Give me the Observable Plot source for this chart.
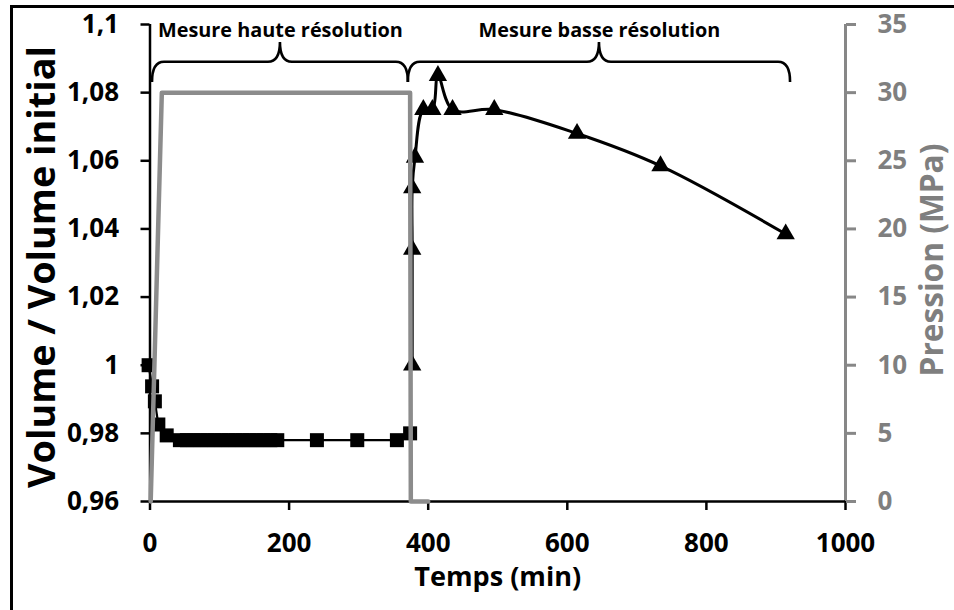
<!DOCTYPE html>
<html><head><meta charset="utf-8">
<script src="https://cdn.jsdelivr.net/npm/d3@7"></script>
<script src="https://cdn.jsdelivr.net/npm/@observablehq/plot@0.6"></script>
<style>
html,body{margin:0;padding:0;background:#fff;}
#chart{position:relative;width:954px;height:610px;overflow:hidden;}
#frame{position:absolute;left:10px;top:5px;width:1000px;height:1000px;border-left:3px solid #000;border-top:3px solid #000;pointer-events:none;}
</style></head><body>
<div id="chart"><div id="frame"></div></div>
<script>
// High-resolution volume measurements (squares)
const sqTime = [-2, 3, 7, 12, 24, 43, 53, 63, 73, 83, 93, 103, 113, 123, 133, 143, 153, 163, 173, 183, 240, 298, 355, 374];
const sqVolume = [1.000, 0.9938, 0.9894, 0.9826, 0.9794, 0.978, 0.978, 0.978, 0.978, 0.978, 0.978, 0.978, 0.978, 0.978, 0.978, 0.978, 0.978, 0.978, 0.978, 0.978, 0.978, 0.978, 0.978, 0.980];
// Low-resolution volume measurements (triangles)
const triTime = [377, 377, 377, 381, 393, 406, 414, 435, 495, 614, 734, 914];
const triVolume = [1.000, 1.034, 1.052, 1.061, 1.075, 1.075, 1.085, 1.075, 1.075, 1.068, 1.0585, 1.0385];
// Pressure (MPa)
const presTime = [1, 17, 374, 375, 400];
const presValue = [0, 30, 30, 0, 0];

// Axes
const xTicks = [0, 200, 400, 600, 800, 1000];
const xTickLabels = ["0", "200", "400", "600", "800", "1000"];
const volTicks = [0.96, 0.98, 1.00, 1.02, 1.04, 1.06, 1.08, 1.10];
const volTickLabels = ["0,96", "0,98", "1", "1,02", "1,04", "1,06", "1,08", "1,1"];
const presTicks = [0, 5, 10, 15, 20, 25, 30, 35];
const presTickLabels = ["0", "5", "10", "15", "20", "25", "30", "35"];
const volDomain = [0.96, 1.1];
const presDomain = [0, 35];
const timeDomain = [0, 1000];

// Annotation braces (time spans) and labels
const braceStart = [3.6, 371.5];
const braceEnd = [371.5, 921];
const braceLabels = ["Mesure haute résolution", "Mesure basse résolution"];
const braceEndLevel = 1.083, braceLineLevel = 1.0889, braceTipLevel = 1.0947;

// target text widths (px)
const titles = {
  "Volume / Volume initial": 442,
  "Temps (min)": 167,
  "Pression (MPa)": 233,
  "Mesure haute résolution": 245,
  "Mesure basse résolution": 242
};

const p2v = p => volDomain[0] + p * (volDomain[1] - volDomain[0]) / (presDomain[1] - presDomain[0]);

const squares = sqTime.map((t, i) => ({t, v: sqVolume[i]}));
const triangles = triTime.map((t, i) => ({t, v: triVolume[i]}));
const pressure = presTime.map((t, i) => ({t, v: p2v(presValue[i])}));
const braces = braceStart.map((s, i) => ({s, e: braceEnd[i], m: (s + braceEnd[i]) / 2, label: braceLabels[i]}));

function braceMark(index, scales) {
  const {x, y} = scales;
  const g = d3.create("svg:g").attr("fill", "none").attr("stroke", "black").attr("stroke-width", 2.6);
  for (const b of braces) {
    const x1 = x(b.s), x2 = x(b.e), xm = (x1 + x2) / 2;
    const yEnd = y(braceEndLevel), yLine = y(braceLineLevel), yTip = y(braceTipLevel);
    const r = 12;
    const p = d3.path();
    p.moveTo(x1, yEnd);
    p.quadraticCurveTo(x1, yLine, x1 + r, yLine);
    p.lineTo(xm - r, yLine);
    p.quadraticCurveTo(xm, yLine, xm, yTip);
    p.quadraticCurveTo(xm, yLine, xm + r, yLine);
    p.lineTo(x2 - r, yLine);
    p.quadraticCurveTo(x2, yLine, x2, yEnd);
    g.append("path").attr("d", p.toString());
  }
  return g.node();
}

const gray = "#878787";
const font = "'Open Sans', sans-serif";

const chart = Plot.plot({
  width: 954,
  height: 610,
  marginLeft: 149.5,
  marginRight: 109,
  marginTop: 24,
  marginBottom: 109,
  style: {fontFamily: font, fontWeight: "bold", background: "transparent", overflow: "visible"},
  x: {domain: timeDomain},
  y: {domain: volDomain},
  marks: [
    Plot.axisX(xTicks, {anchor: "bottom", tickSize: 9, tickPadding: 23, strokeWidth: 2.5,
      tickFormat: d => xTickLabels[xTicks.indexOf(d)], fontSize: 26, fontWeight: "bold", fill: "black", label: null}),
    Plot.axisY(volTicks, {anchor: "left", tickSize: 9, tickPadding: 22, strokeWidth: 2.5,
      tickFormat: d => volTickLabels[volTicks.indexOf(d)], fontSize: 26, fontWeight: "bold", fill: "black", label: null}),
    Plot.axisY(presTicks.map(p2v), {anchor: "right", tickSize: 10, tickPadding: 22, strokeWidth: 3, stroke: gray,
      tickFormat: d => presTickLabels[presTicks.map(p2v).indexOf(d)], fontSize: 26, fontWeight: "bold", fill: "#7f7f7f", label: null}),
    Plot.ruleX([timeDomain[1]], {stroke: gray, strokeWidth: 3}),
    Plot.ruleX([timeDomain[0]], {stroke: "black", strokeWidth: 2.5}),
    Plot.ruleY([volDomain[0]], {stroke: "black", strokeWidth: 2.5}),
    // volume high resolution
    Plot.line(squares, {x: "t", y: "v", stroke: "black", strokeWidth: 2.2}),
    Plot.dot(squares, {x: "t", y: "v", symbol: "square", r: 7.9, fill: "black"}),
    // volume low resolution
    Plot.line(triangles, {x: "t", y: "v", stroke: "black", strokeWidth: 3, curve: "catmull-rom"}),
    Plot.dot(triangles, {x: "t", y: "v", symbol: "triangle", r: 6.8, fill: "black"}),
    // pressure
    Plot.line(pressure, {x: "t", y: "v", stroke: "#8c8c8c", strokeWidth: 4.5}),
    // braces
    braceMark,
    Plot.text(braces, {x: "m", text: "label", frameAnchor: "top", lineAnchor: "middle", textAnchor: "middle", dy: 6.6, fontSize: 20, fontWeight: "bold", fill: "black"}),
    // axis titles
    Plot.text(["Volume / Volume initial"], {frameAnchor: "left", lineAnchor: "middle", textAnchor: "middle", dx: -107, dy: 4, rotate: -90, fontSize: 36, fontWeight: "bold", fill: "black"}),
    Plot.text(["Temps (min)"], {frameAnchor: "bottom", lineAnchor: "middle", textAnchor: "middle", dy: 76, fontSize: 28, fontWeight: "bold", fill: "black"}),
    Plot.text(["Pression (MPa)"], {frameAnchor: "right", lineAnchor: "middle", textAnchor: "middle", dx: 87, dy: -3, rotate: -90, fontSize: 32, fontWeight: "bold", fill: "#7f7f7f"})
  ]
});

document.getElementById("chart").insertBefore(chart, document.getElementById("frame"));

// scale title font sizes so their widths match the reference
d3.select(chart).selectAll("text").each(function() {
  const len = titles[this.textContent];
  if (len) {
    const cur = this.getComputedTextLength();
    const fs = parseFloat(getComputedStyle(this).fontSize);
    if (cur > 0 && fs > 0) this.style.fontSize = (fs * len / cur).toFixed(2) + "px";
  }
});
</script>
</body></html>
